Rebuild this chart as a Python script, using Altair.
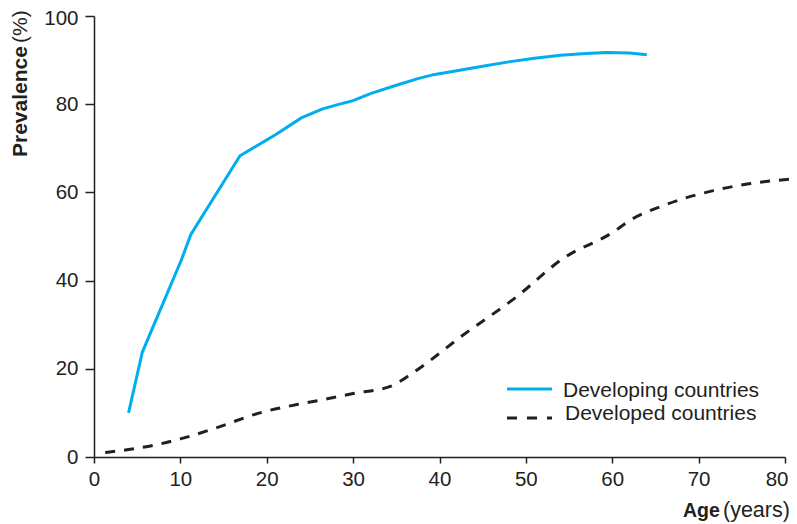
import altair as alt
import pandas as pd

# Developing countries (solid blue)
developing_age = [4, 5.6, 10.1, 11.2, 16.9, 21.1, 24, 26.4, 28, 30, 32, 35, 37.5, 39.3, 42, 45, 48, 51, 54, 57, 59.3, 62, 64]
developing_prev = [10, 23.8, 44.6, 50.4, 68.3, 73.2, 76.9, 78.9, 79.8, 80.8, 82.4, 84.3, 85.8, 86.7, 87.6, 88.6, 89.6, 90.4, 91.1, 91.5, 91.7, 91.6, 91.2]

# Developed countries (dashed dark)
developed_age = [1.3, 4, 7, 10, 14, 19, 23.5, 27.3, 30, 34.3, 37, 42.7, 48.9, 54.3, 60.1, 62, 65.9, 71.7, 76, 81.3]
developed_prev = [1, 1.7, 2.7, 4.1, 6.5, 9.9, 11.9, 13.3, 14.4, 16.0, 19.2, 27.6, 36.3, 45.0, 51.0, 53.6, 57.0, 60.4, 62.0, 63.1]

series_names = ["Developing countries", "Developed countries"]
x_ticks = [0, 10, 20, 30, 40, 50, 60, 70, 80]
y_ticks = [0, 20, 40, 60, 80, 100]

FONT = "Liberation Sans"
DARK = "#231F20"
BLUE = "#00AEEF"

df_dev = pd.DataFrame({"age": developing_age, "prev": developing_prev, "series": series_names[0]})
df_ed = pd.DataFrame({"age": developed_age, "prev": developed_prev, "series": series_names[1]})

xenc = alt.X("age:Q", scale=alt.Scale(domain=[0, 80], nice=False, zero=True),
             axis=alt.Axis(values=x_ticks, title=None, tickSize=6, labelPadding=6,
                           labelFlush=False, labelOverlap=False,
                           labelAlign={"condition": {"test": "datum.value == 80", "value": "right"}, "value": "center"},
                           labelOffset={"condition": {"test": "datum.value == 80", "value": 3}, "value": 0}))
yenc = alt.Y("prev:Q", scale=alt.Scale(domain=[0, 100], nice=False),
             axis=alt.Axis(values=y_ticks, title=None, tickSize=9, labelPadding=7,
                           labelFlush=False, labelOverlap=False,
                           labelOffset={"condition": {"test": "datum.value == 100", "value": 2}, "value": 0}))

line_dev = alt.Chart(df_dev).mark_line(color=BLUE, strokeWidth=3, clip=False).encode(x=xenc, y=yenc)
line_ed = alt.Chart(df_ed).mark_line(color=DARK, strokeWidth=3, strokeDash=[10, 9],
                                     interpolate="monotone", clip=False).encode(x=xenc, y=yenc)

# Legend (manual)
leg_blue = alt.Chart().mark_rule(color=BLUE, strokeWidth=3).encode(
    x=alt.value(413), x2=alt.value(458), y=alt.value(373))
leg_dark = alt.Chart().mark_rule(color=DARK, strokeWidth=3, strokeDash=[10, 10]).encode(
    x=alt.value(413), x2=alt.value(458), y=alt.value(402))
leg_t1 = alt.Chart().mark_text(text=series_names[0], font=FONT, fontSize=21, color=DARK,
                               align="left", baseline="alphabetic").encode(
    x=alt.value(469), y=alt.value(381))
leg_t2 = alt.Chart().mark_text(text=series_names[1], font=FONT, fontSize=21, color=DARK,
                               align="left", baseline="alphabetic").encode(
    x=alt.value(471), y=alt.value(404))

# Axis titles (mixed bold / normal)
xt1 = alt.Chart().mark_text(text="Age", font=FONT, fontSize=19.5, fontWeight="bold", color=DARK,
                            align="left", baseline="alphabetic").encode(x=alt.value(589), y=alt.value(501))
xt2 = alt.Chart().mark_text(text="(years)", font=FONT, fontSize=21.5, color=DARK,
                            align="left", baseline="alphabetic").encode(x=alt.value(629), y=alt.value(501))
yt1 = alt.Chart().mark_text(text="Prevalence", font=FONT, fontSize=21, fontWeight="bold", color=DARK,
                            align="left", baseline="alphabetic", angle=270).encode(x=alt.value(-67), y=alt.value(141))
yt2 = alt.Chart().mark_text(text="(%)", font=FONT, fontSize=21, color=DARK,
                            align="left", baseline="alphabetic", angle=270).encode(x=alt.value(-67), y=alt.value(27))

chart = alt.layer(line_dev, line_ed, leg_blue, leg_dark, leg_t1, leg_t2, xt1, xt2, yt1, yt2).properties(
    width=691, height=441,
    padding={"left": 86, "top": 8, "right": 4, "bottom": 70},
    autosize=alt.AutoSizeParams(type="none"),
).configure_view(stroke=None).configure_axis(
    grid=False,
    labelFont=FONT, labelFontSize=20.5, labelColor=DARK,
    domainColor=DARK, domainWidth=1.5, tickColor=DARK, tickWidth=1.5,
)

chart.save("out.html", embed_options={"renderer": "svg", "actions": False})
